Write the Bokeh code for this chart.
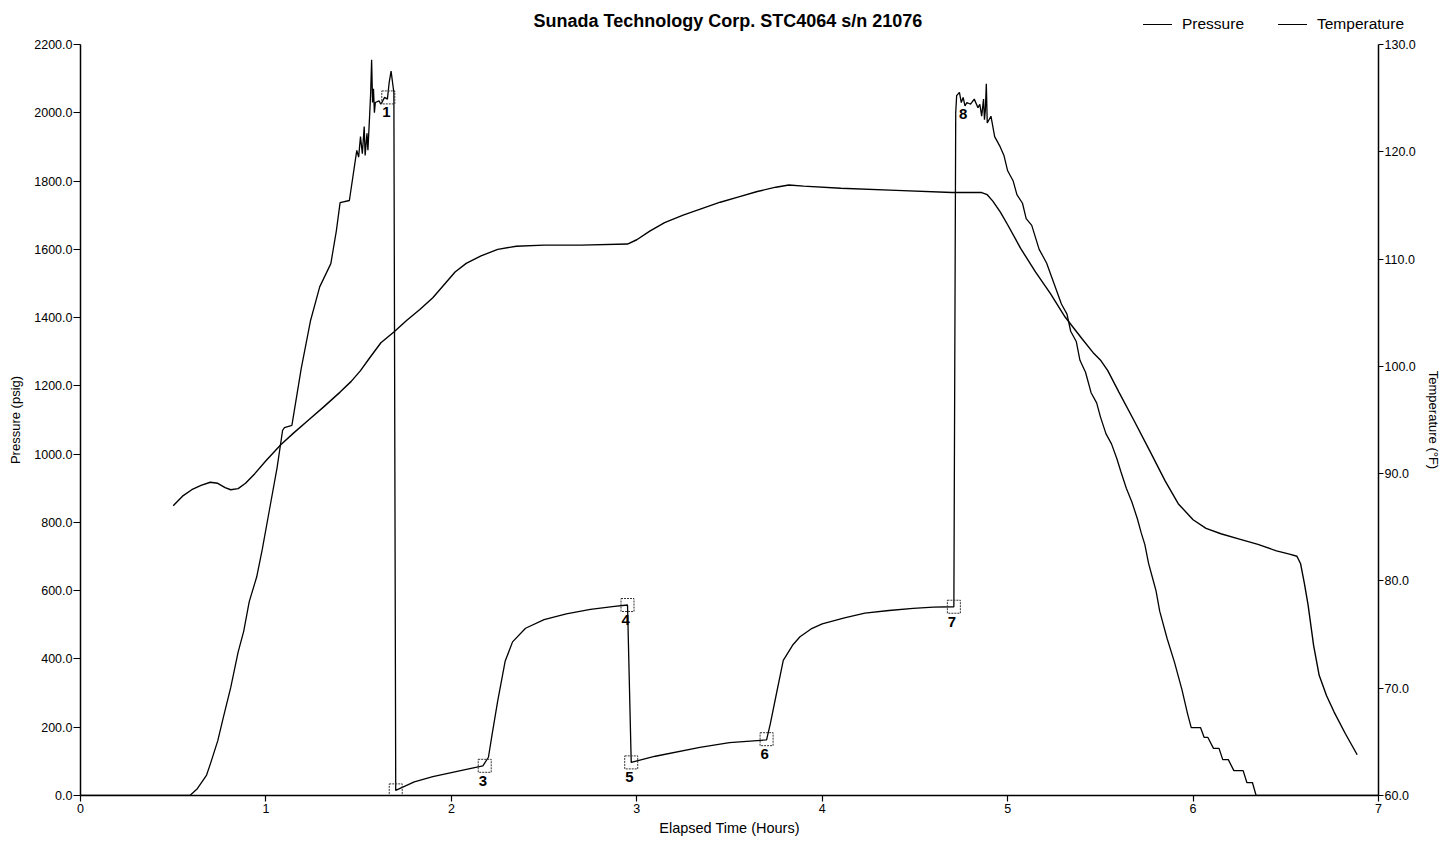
from bokeh.plotting import figure
from bokeh.layouts import column
from bokeh.models import Range1d, LinearAxis, FixedTicker, NumeralTickFormatter, Div
from bokeh.core.properties import value
from bokeh.embed import file_html
from bokeh.resources import INLINE

# pressure trace (hours, psig)
press_t = [0.00, 0.59, 0.63, 0.68, 0.70, 0.74, 0.77, 0.81, 0.85, 0.88, 0.91, 0.95,
           0.98, 1.02, 1.06, 1.09, 1.10, 1.14, 1.19, 1.24, 1.29, 1.35, 1.38, 1.40,
           1.45, 1.49, 1.50, 1.51, 1.52, 1.53, 1.535, 1.545, 1.55, 1.56, 1.565,
           1.57, 1.575, 1.58, 1.585, 1.59, 1.61, 1.62, 1.64, 1.655, 1.665, 1.675,
           1.685, 1.69, 1.70, 1.80, 1.90, 2.00, 2.10, 2.17, 2.20, 2.22, 2.25,
           2.29, 2.33, 2.40, 2.50, 2.62, 2.75, 2.88, 2.95, 2.97, 3.10, 3.34,
           3.50, 3.70, 3.72, 3.75, 3.79, 3.84, 3.88, 3.94, 4.00, 4.12, 4.23,
           4.36, 4.49, 4.60, 4.71, 4.72, 4.725, 4.74, 4.75, 4.76, 4.77, 4.78,
           4.80, 4.82, 4.84, 4.85, 4.86, 4.87, 4.875, 4.88, 4.885, 4.89, 4.91,
           4.93, 4.96, 4.98, 5.00, 5.03, 5.05, 5.08, 5.10, 5.13, 5.17, 5.21,
           5.25, 5.29, 5.32, 5.34, 5.37, 5.39, 5.42, 5.45, 5.48, 5.50, 5.53,
           5.56, 5.59, 5.61, 5.64, 5.67, 5.70, 5.72, 5.74, 5.76, 5.78, 5.80,
           5.82, 5.86, 5.90, 5.94, 5.97, 5.99, 6.04, 6.06, 6.08, 6.11, 6.14,
           6.16, 6.19, 6.22, 6.27, 6.29, 6.32, 6.34, 7.00]
press_v = [0, 0, 20, 60, 92, 160, 228, 316, 420, 481, 568, 640,
           720, 840, 960, 1070, 1078, 1084, 1250, 1390, 1490, 1558, 1655, 1737,
           1743, 1890, 1870, 1930, 1880, 1960, 1875, 1940, 1890, 2000, 2060,
           2155, 2030, 2070, 2000, 2030, 2035, 2025, 2045, 2040, 2090, 2122,
           2080, 2060, 15, 40, 55, 67, 79, 87, 112, 180, 277,
           393, 450, 490, 515, 532, 545, 554, 558, 97, 115, 141,
           155, 163, 210, 290, 396, 440, 465, 488, 503, 520, 534,
           542, 548, 552, 553, 2000, 2050, 2060, 2030, 2045, 2020, 2030,
           2025, 2040, 2015, 2025, 1990, 2040, 1980, 2010, 2085, 1970, 1990,
           1930, 1900, 1875, 1830, 1800, 1760, 1735, 1690, 1670, 1600, 1560,
           1500, 1440, 1410, 1360, 1330, 1275, 1240, 1180, 1150, 1110, 1060,
           1030, 985, 950, 900, 860, 810, 770, 735, 680, 640, 600,
           540, 460, 390, 310, 240, 199, 199, 170, 170, 138, 138,
           105, 105, 73, 73, 38, 38, 0, 0]

# temperature trace (hours, deg F)
temp_t = [0.50, 0.55, 0.60, 0.65, 0.70, 0.74, 0.78, 0.81, 0.85, 0.89, 0.94, 1.00,
          1.08, 1.15, 1.23, 1.31, 1.40, 1.46, 1.51, 1.56, 1.62, 1.69, 1.76, 1.83,
          1.90, 1.97, 2.02, 2.08, 2.16, 2.25, 2.35, 2.50, 2.70, 2.95, 3.00, 3.07,
          3.15, 3.25, 3.35, 3.45, 3.55, 3.65, 3.75, 3.82, 3.90, 4.10, 4.40, 4.70,
          4.86, 4.89, 4.92, 4.96, 5.00, 5.07, 5.15, 5.23, 5.31, 5.40, 5.46, 5.50,
          5.54, 5.60, 5.68, 5.77, 5.85, 5.92, 6.00, 6.07, 6.15, 6.25, 6.35, 6.45,
          6.52, 6.56, 6.58, 6.60, 6.62, 6.65, 6.68, 6.72, 6.76, 6.82, 6.885]
temp_v = [87.0, 87.9, 88.5, 88.9, 89.2, 89.1, 88.7, 88.5, 88.6, 89.1, 90.0, 91.2,
          92.7, 93.8, 95.0, 96.2, 97.6, 98.6, 99.6, 100.8, 102.2, 103.2, 104.3, 105.3,
          106.4, 107.8, 108.8, 109.6, 110.3, 110.9, 111.2, 111.3, 111.3, 111.4, 111.8, 112.6,
          113.4, 114.1, 114.7, 115.3, 115.8, 116.3, 116.7, 116.9, 116.8, 116.6, 116.4, 116.2,
          116.2, 116.0, 115.4, 114.4, 113.2, 111.0, 108.8, 106.8, 104.6, 102.6, 101.3, 100.6,
          99.6, 97.6, 95.0, 92.0, 89.3, 87.2, 85.7, 84.9, 84.4, 83.9, 83.4, 82.8,
          82.5, 82.3, 81.6, 79.8, 77.8, 74.0, 71.2, 69.3, 67.8, 65.8, 63.8]

# event boxes
box_t = [1.66, 1.70, 2.18, 2.95, 2.97, 3.70, 4.71]
box_v = [2045, 15, 87, 558, 97, 165, 553]

# event numbers
lab_t = [1.65, 2.17, 2.94, 2.96, 3.69, 4.70, 4.76]
lab_v = [2045, 87, 558, 97, 165, 553, 2040]
lab_txt = ["1", "3", "4", "5", "6", "7", "8"]

x_ticks = [0, 1, 2, 3, 4, 5, 6, 7]
press_ticks = [0, 200, 400, 600, 800, 1000, 1200, 1400, 1600, 1800, 2000, 2200]
temp_ticks = [60, 70, 80, 90, 100, 110, 120, 130]

title_txt = "Sunada Technology Corp. STC4064 s/n 21076"
series_names = ["Pressure", "Temperature"]

FONT = "Liberation Sans"
W = 1445
HEAD_H = 36
MAIN_H = 807

# header strip with title and key (the key reaches past the plot's right edge)
key_x = [1143, 1278]
parts = ['<span style="position:absolute;left:478px;width:500px;top:11px;'
         'text-align:center;font-weight:bold;font-size:18px;line-height:21px;'
         'white-space:nowrap">%s</span>' % title_txt]
for kx, name in zip(key_x, series_names):
    parts.append('<span style="position:absolute;left:%dpx;top:24px;width:29px;height:0;'
                 'border-top:1.3px solid black"></span>' % kx)
    parts.append('<span style="position:absolute;left:%dpx;top:15px;font-size:15.5px;'
                 'line-height:18px;white-space:nowrap">%s</span>' % (kx + 39, name))
head = Div(width=W, height=HEAD_H, margin=0,
           text='<div style="position:relative;width:%dpx;height:%dpx;'
                'font-family:\'Liberation Sans\';color:black">%s</div>'
                % (W, HEAD_H, "".join(parts)))

# main chart
p = figure(width=W, height=MAIN_H, x_range=Range1d(0, 7), y_range=Range1d(0, 2200),
           output_backend="svg", toolbar_location=None,
           min_border_left=80, min_border_right=67, min_border_top=8, min_border_bottom=48)
p.outline_line_color = None
p.xgrid.visible = False
p.ygrid.visible = False

p.extra_y_ranges = {"temp": Range1d(60, 130)}


def style_axis(ax):
    ax.axis_line_color = "black"
    ax.axis_line_width = 1.5
    ax.major_tick_out = 7
    ax.major_tick_in = 0
    ax.minor_tick_out = 0
    ax.minor_tick_in = 0
    ax.major_tick_line_color = "black"
    ax.major_tick_line_width = 1.2
    ax.major_label_text_font = FONT
    ax.major_label_text_font_size = "12.5px"
    ax.major_label_text_color = "black"
    ax.major_label_standoff = 1
    ax.axis_label_text_font = FONT
    ax.axis_label_text_font_size = "13px"
    ax.axis_label_text_font_style = "normal"
    ax.axis_label_text_color = "black"
    ax.axis_label_standoff = 8


p.xaxis.ticker = FixedTicker(ticks=x_ticks)
p.xaxis.formatter = NumeralTickFormatter(format="0")
p.xaxis.axis_label = "Elapsed Time (Hours)"
style_axis(p.xaxis[0])
p.xaxis.major_tick_out = 6
p.xaxis.major_label_standoff = 2
p.xaxis.axis_label_standoff = 4
p.xaxis.axis_label_text_font_size = "14.5px"

p.yaxis.ticker = FixedTicker(ticks=press_ticks)
p.yaxis.formatter = NumeralTickFormatter(format="0.0")
p.yaxis.axis_label = "Pressure (psig)"
style_axis(p.yaxis[0])

ax_r = LinearAxis(y_range_name="temp", axis_label="Temperature (°F)",
                  ticker=FixedTicker(ticks=temp_ticks),
                  formatter=NumeralTickFormatter(format="0.0"))
style_axis(ax_r)
ax_r.major_tick_out = 5
ax_r.axis_label_standoff = 7
p.add_layout(ax_r, "right")

p.line(press_t, press_v, line_color="black", line_width=1.3)
p.line(temp_t, temp_v, line_color="black", line_width=1.4, y_range_name="temp")

p.scatter(box_t, box_v, marker="square", size=13, fill_color=None,
          line_color="#333333", line_width=1, line_dash="2 1")
p.text(lab_t, lab_v, text=lab_txt, text_align="center", text_baseline="top",
       y_offset=10, text_font_size="15px", text_font_style="bold", text_color="black",
       text_font=value(FONT))

open("out.html", "w").write(file_html(column(head, p, spacing=0), INLINE))
